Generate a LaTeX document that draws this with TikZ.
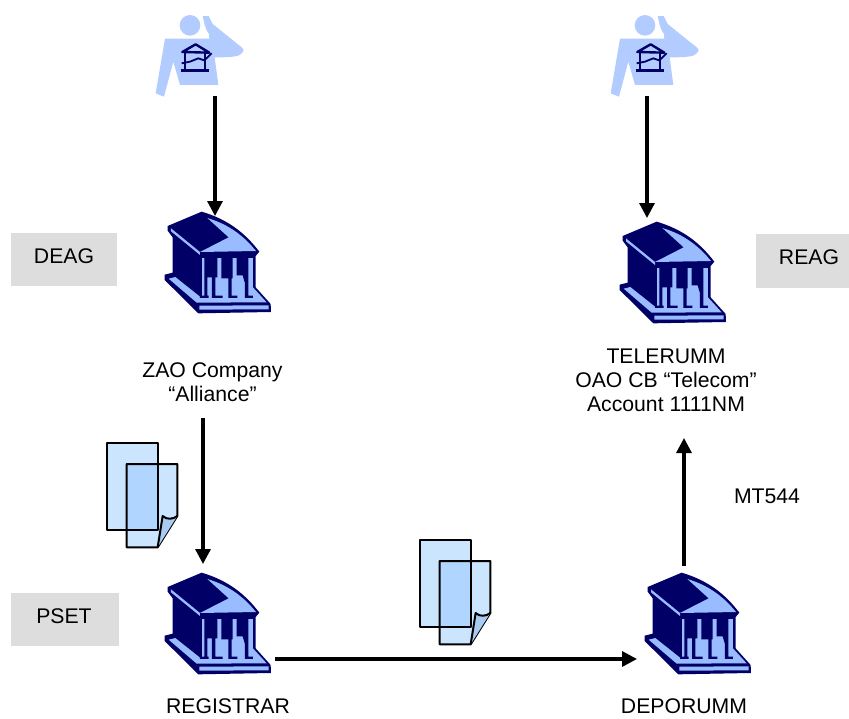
\documentclass[tikz,border=0pt]{standalone}
\usepackage{fontspec}
\setmainfont{Liberation Sans}
\usetikzlibrary{arrows.meta}
\definecolor{navy}{HTML}{000066}
\definecolor{lblue}{HTML}{99BBFF}
\definecolor{pblue}{HTML}{B3CCFF}
\definecolor{paper}{HTML}{CCE5FF}
\definecolor{overlap}{HTML}{B0D5FF}
\definecolor{foldc}{HTML}{A9CBF2}
\definecolor{tagbg}{HTML}{DDDDDD}
\tikzset{
  x=1pt,y=-1pt,
  flow/.style={draw=black,line width=3.2pt,-{Triangle[length=15pt,width=15pt]}},
  lab/.style={font=\fontsize{21.2}{24}\selectfont,align=center,inner sep=0pt},
  tagbox/.style={fill=tagbg,draw=none,inner sep=0pt},
  building/.pic={
    \begin{scope}[x=0.3333pt,y=-0.3333pt]
      % dark silhouette
      \fill[navy] (53,78) -- (155,35) .. controls (240,60) and (290,105) .. (328,155)
        -- (317,168) -- (317,262) -- (362,312) -- (363,336) -- (145,340)
        -- (44,240) -- (44,224) -- (68,218) -- (68,112) -- (53,92) -- cycle;
      % roof light face and eave
      \fill[lblue] (172,54) .. controls (240,74) and (285,112) .. (318,153) -- (150,156) -- (236,112) -- cycle;
      \fill[lblue] (63,85) -- (150,156) -- (150,165) -- (63,94) -- cycle;
      % floor
      \fill[lblue] (56,236) -- (76,231) -- (150,290) -- (309,290) -- (309,262) -- (350,307) -- (140,308) -- cycle;
      % plinth face
      \fill[lblue] (148,317) -- (356,316) -- (356,328) -- (148,329) -- cycle;
      % columns background
      \fill[lblue] (155,174) rectangle (309,292);
      % shadows and feet
      \fill[navy] (163,172) -- (202,172) -- (202,232) -- (196,232) -- (196,287) -- (218,287) -- (218,294)
        -- (186,294) -- (186,232) -- (172,232) -- (172,287) -- (176,287) -- (176,294) -- (150,294) -- (150,287) -- (163,287) -- cycle;
      \fill[navy] (214,172) -- (248,172) -- (248,235) -- (245,235) -- (245,287) -- (262,287) -- (262,294)
        -- (235,294) -- (235,235) -- (214,235) -- cycle;
      \fill[navy] (260,172) -- (295,172) -- (295,287) -- (309,287) -- (309,294) -- (285,294) -- (285,250) -- (278,226) -- (260,226) -- cycle;
    \end{scope}
  },
  person/.pic={
    \begin{scope}[x=0.3333pt,y=-0.3333pt]
      \fill[pblue] (150,76) circle[radius=31];
      \fill[pblue] (188,48) -- (206,48) -- (218,72) -- (305,142) .. controls (315,150) and (312,155) .. (297,166) .. controls (280,172) and (250,172) .. (224,172)
        -- (235,255) -- (120,255) -- (100,185) -- (72,290) -- (47,280) -- (75,116) -- (208,116) -- (207,102) .. controls (195,88) and (192,65) .. (188,48) -- cycle;
      \draw[navy,line width=2.4pt,line join=round] (127,156) -- (167,133) -- (208,158) -- cycle;
      \draw[navy,line width=2pt] (135,157) -- (135,210) (195,157) -- (195,210);
      \draw[navy,line width=3pt] (122,211) -- (208,211);
      \draw[navy,line width=1.8pt] (125,190) -- (150,185) -- (175,175) -- (193,181) -- (215,160);
    \end{scope}
  },
  docs/.pic={
    \begin{scope}[x=0.3333pt,y=-0.3333pt,line width=2pt,line join=round]
      \fill[paper] (95,102) -- (247,102) -- (247,258) -- (188,352) -- (95,352) -- cycle;
      \fill[paper] (37,40) rectangle (188,300);
      \fill[overlap] (95,102) rectangle (188,300);
      \draw[black] (95,102) -- (247,102) -- (247,258) -- (188,352) -- (95,352) -- cycle;
      \fill[foldc] (188,352) -- (203,258) .. controls (215,270) and (235,268) .. (247,258) -- cycle;
      \draw[black] (188,352) -- (203,258) .. controls (215,270) and (235,268) .. (247,258);
      \draw[black] (37,40) rectangle (188,300);
    \end{scope}
  }
}
\begin{document}
\begin{tikzpicture}
\useasboundingbox (0,0) rectangle (849,718);
\node[tagbox,minimum width=106pt,minimum height=53pt] (deagbox) at (64,259.5) {};
\node[tagbox,minimum width=93pt,minimum height=54pt] (reagbox) at (802.5,261) {};
\node[tagbox,minimum width=108pt,minimum height=53pt] (psetbox) at (65,619.5) {};
\node[lab] (deag) at (64,256) {DEAG};
\node[lab] (reag) at (809,257) {REAG};
\node[lab] (pset) at (64,616) {PSET};
\pic at (140,0) {person};
\pic at (595,0) {person};
\pic at (150,200) {building};
\pic at (605,210) {building};
\pic at (150,561) {building};
\pic at (630,561) {building};
\pic at (95,430) {docs};
\pic at (408,527) {docs};
\node[lab] (zao) at (212.5,382) {ZAO Company\\“Alliance”};
\node[lab] (tele) at (666,380) {TELERUMM\\OAO CB “Telecom”\\Account 1111NM};
\node[lab] (mt) at (767,496) {MT544};
\node[lab] (reg) at (228,706) {REGISTRAR};
\node[lab] (dep) at (684,706) {DEPORUMM};
\coordinate (p1s) at (215,96);
\coordinate (b1n) at (215,216);
\coordinate (p2s) at (647,96);
\coordinate (b2n) at (647,218);
\coordinate (zaos) at (203,418);
\coordinate (b3n) at (203,564);
\coordinate (b3e) at (275,659);
\coordinate (b4w) at (637,659);
\coordinate (b4n) at (684,566);
\coordinate (teles) at (684,438);
\draw[flow] (p1s) -- (b1n);
\draw[flow] (p2s) -- (b2n);
\draw[flow] (zaos) -- (b3n);
\draw[flow] (b3e) -- (b4w);
\draw[flow] (b4n) -- (teles);
\end{tikzpicture}
\end{document}
